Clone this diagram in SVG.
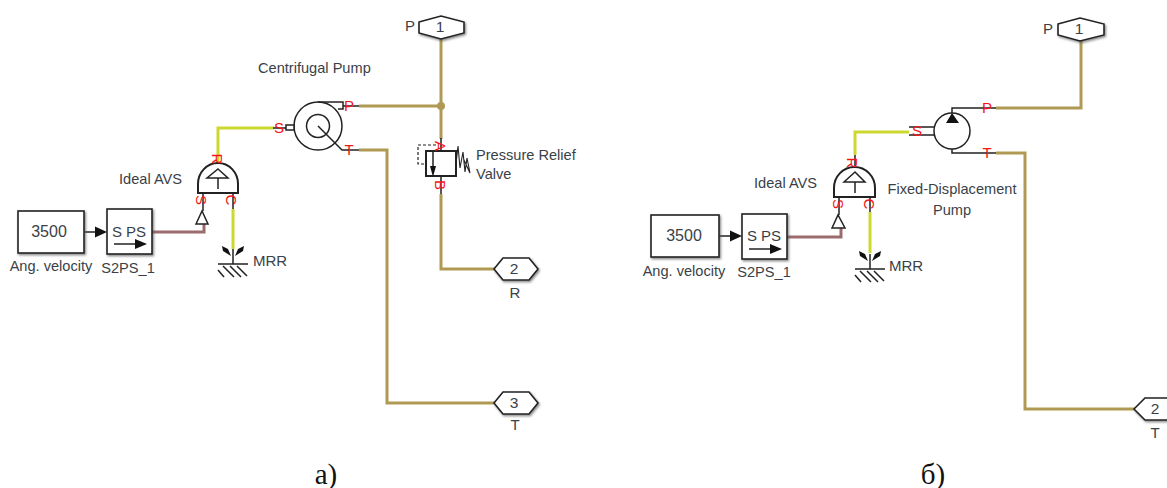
<svg xmlns="http://www.w3.org/2000/svg" width="1167" height="488" viewBox="0 0 1167 488">
<style>
text{font-family:"Liberation Sans",Arial,sans-serif;font-size:14.600px;fill:#3a3f48;}
.m{text-anchor:middle}
.cap{font-family:"Liberation Serif","Times New Roman",serif;font-size:29px;fill:#111;text-anchor:middle}
.port{font-size:15px;fill:#f41414;text-anchor:middle}
.num{font-size:15.500px}
.blk{fill:#fff;stroke:#222;stroke-width:1.600;filter:url(#sh)}
.ln{fill:none;stroke:#222;stroke-width:1.500}
.thk{fill:#fff;stroke:#222;stroke-width:2}
.hyd{fill:none;stroke:#b09a53;stroke-width:3}
.mech{fill:none;stroke:#ccd82e;stroke-width:3}
.sig{fill:none;stroke:#9c6b6e;stroke-width:3}
.k{fill:#111;stroke:none}
.w{fill:#fff;stroke:#222;stroke-width:1.500}
</style>
<defs>
<filter id="sh" x="-15%" y="-15%" width="135%" height="140%"><feDropShadow dx="1.200" dy="1.500" stdDeviation="1" flood-color="#555" flood-opacity=".7"/></filter>
<g id="ground">
<path class="ln" d="M0,-15V0M-15,0H15M-15,6L-9,13M-10,2L1,13M-3,2L8,13M4,2L14,12"/>
<path class="k" d="M-2,-8L-10,-13L-11,-18L-5,-15ZM2,-8L10,-13L11,-18L5,-15Z"/>
</g>
</defs>
<g id="connectors">
<path class="ln" d="M85,232H97"/>
<path class="k" d="M95,226.500L107,232L95,237.500Z"/>
<path class="sig" d="M152,232H204V224"/>
<path class="mech" d="M218,163V128H274"/>
<path class="mech" d="M233,209V249"/>
<path class="hyd" d="M359,106H441M441,38V139"/>
<circle cx="441" cy="106" r="4" fill="#b09a53"/>
<path class="hyd" d="M441,194V269H494"/>
<path class="hyd" d="M359,150H387V403H494"/>
<path class="ln" d="M719,236H730"/>
<path class="k" d="M730,230.500L742,236L730,241.500Z"/>
<path class="sig" d="M787,237H841V228"/>
<path class="mech" d="M855,155V132H909"/>
<path class="mech" d="M870,212V253"/>
<path class="hyd" d="M996,108H1081V40"/>
<path class="hyd" d="M996,153H1025V409H1135"/>
</g>
<g id="const-a"><rect class="blk" x="18" y="211" width="66" height="42"/><text class="m num" x="49" y="237" style="font-size:16px">3500</text><text class="m" x="51" y="271">Ang. velocity</text></g>
<g id="s2ps-a"><rect class="blk" x="107" y="209" width="45" height="45"/><text class="m" x="129" y="237" style="font-size:15px">S PS</text><path class="ln" d="M114,244H136"/><path class="k" d="M135,239L147,244L135,249Z"/><text class="m" x="128" y="273">S2PS_1</text></g>
<g id="avs-a">
<path class="ln" d="M203,211V193M218,163V170M233,193V209"/>
<path class="w" d="M196,224L202,211L208,224Z"/>
<path class="thk" d="M198,193V184A20,21 0 0 1 238,184V193Z"/>
<path class="ln" d="M218,169L228,178H207ZM218,178V189"/>
<text class="port" transform="translate(217,159) rotate(90)" y="5">R</text>
<text class="port" transform="translate(201,200) rotate(90)" y="5">S</text>
<text class="port" transform="translate(231,200) rotate(90)" y="5">C</text>
<text x="119" y="184">Ideal AVS</text>
</g>
<g id="mrr-a"><use href="#ground" x="233" y="264"/><text x="253" y="266" style="font-size:15px">MRR</text></g>
<g id="pump-a">
<text x="258" y="73">Centrifugal Pump</text>
<circle class="w" cx="318" cy="126" r="24"/>
<circle class="ln" cx="318" cy="126" r="11.500"/>
<path class="ln" d="M318,126L342,150H359M318,102H343V109H338M343,106H359M273,128H286"/>
<rect class="w" x="286" y="125" width="8" height="5"/>
<text class="port" x="349" y="111">P</text>
<text class="port" x="349" y="155">T</text>
<text class="port" x="279" y="133">S</text>
</g>
<g id="valve-a">
<path class="ln" d="M441,138V151M441,176V194"/>
<rect class="thk" x="426" y="151" width="30" height="25"/>
<path d="M436,145H418V164H426" fill="none" stroke="#222" stroke-width="1.200" stroke-dasharray="3 2"/>
<path class="ln" d="M433,151V170"/>
<path class="k" d="M430,166H436L433,177Z"/>
<path d="M456,164L458,146L460,168L463,152L465,172L467,158L470,173L464,160" fill="none" stroke="#222" stroke-width="1.100"/>
<text class="port" transform="translate(440,146) rotate(90)" y="5">A</text>
<text class="port" transform="translate(440,185) rotate(90)" y="5">B</text>
<text x="476" y="160">Pressure Relief</text>
<text x="476" y="179">Valve</text>
</g>
<g id="port-p-a"><path class="blk" d="M419,22L441,16L464,22V33L441,39L419,33Z"/><text class="m num" x="440" y="32">1</text><text x="405" y="31" style="font-size:15px">P</text></g>
<g id="port-r-a"><path class="blk" d="M494,269L503,258H529L538,269L529,280H503Z"/><text class="m num" x="514" y="274">2</text><text class="m" x="515" y="298" style="font-size:15px">R</text></g>
<g id="port-t-a"><path class="blk" d="M494,403L503,392H529L538,403L529,414H503Z"/><text class="m num" x="514" y="408">3</text><text class="m" x="515" y="430" style="font-size:15px">T</text></g>

<g id="const-b"><rect class="blk" x="651" y="215" width="68" height="42"/><text class="m" x="684" y="241" style="font-size:16px">3500</text><text class="m" x="684" y="276">Ang. velocity</text></g>
<g id="s2ps-b"><rect class="blk" x="742" y="214" width="45" height="45"/><text class="m" x="764" y="241" style="font-size:15px">S PS</text><path class="ln" d="M749,249H771"/><path class="k" d="M770,244L782,249L770,254Z"/><text class="m" x="764" y="277">S2PS_1</text></g>
<g id="avs-b">
<path class="ln" d="M839,215V197M855,167V155M870,197V212"/>
<path class="w" d="M832,228L838,215L845,228Z"/>
<path class="thk" d="M834,197V188A20.500,21 0 0 1 875,188V197Z"/>
<path class="ln" d="M855,172L865,182H844ZM855,182V193"/>
<text class="port" transform="translate(852,163) rotate(90)" y="5">R</text>
<text class="port" transform="translate(838,204) rotate(90)" y="5">S</text>
<text class="port" transform="translate(869,204) rotate(90)" y="5">C</text>
<text x="754" y="188">Ideal AVS</text>
</g>
<g id="mrr-b"><use href="#ground" x="870" y="269"/><text x="889" y="271" style="font-size:15px">MRR</text></g>
<g id="pump-b">
<path class="ln" d="M909,127H934M909,135H934M952,113V108H996M952,149V153H996"/>
<circle class="ln" cx="952" cy="131" r="18"/>
<path class="k" d="M952,113L959,123H946Z"/>
<text class="port" x="987" y="113">P</text>
<text class="port" x="987" y="158">T</text>
<text class="port" x="917" y="136">S</text>
<text class="m" x="952" y="194">Fixed-Displacement</text>
<text class="m" x="952" y="215">Pump</text>
</g>
<g id="port-p-b"><path class="blk" d="M1058,24L1080,18L1104,24V35L1080,41L1058,35Z"/><text class="m num" x="1079" y="34">1</text><text x="1043" y="34" style="font-size:15px">P</text></g>
<g id="port-t-b"><path class="blk" d="M1134,409L1145,398H1180V420H1145Z"/><text class="m num" x="1155" y="414">2</text><text class="m" x="1155" y="438" style="font-size:15px">T</text></g>
<text class="cap" x="326" y="484">а)</text>
<text class="cap" x="933" y="484">б)</text>
</svg>
